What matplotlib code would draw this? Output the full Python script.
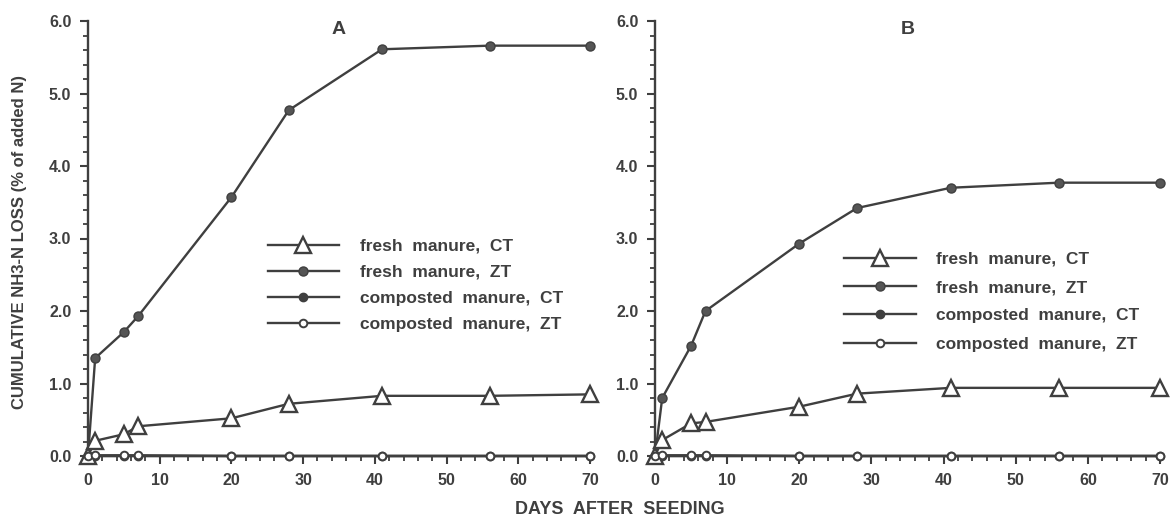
import numpy as np
import matplotlib
matplotlib.use("Agg")
import matplotlib.pyplot as plt
from matplotlib.ticker import MultipleLocator, FormatStrFormatter

INK = "#3f3f3f"
plt.rcParams.update({
    "font.family": ["Liberation Sans", "DejaVu Sans"],
    "font.weight": "bold",
    "text.color": INK, "axes.edgecolor": INK,
    "xtick.color": INK, "ytick.color": INK,
})

days = [0, 1, 5, 7, 20, 28, 41, 56, 70]

# panel A
a_fresh_ct = [0.0, 0.21, 0.30, 0.41, 0.52, 0.72, 0.83, 0.83, 0.85]
a_fresh_zt = [0.0, 1.35, 1.71, 1.93, 3.57, 4.77, 5.61, 5.66, 5.66]
a_comp_ct = [0.0, 0.0, 0.0, 0.0, 0.0, 0.0, 0.0, 0.0, 0.0]
a_comp_zt = [0.0, 0.01, 0.01, 0.01, 0.0, 0.0, 0.0, 0.0, 0.0]

# panel B
b_fresh_ct = [0.0, 0.22, 0.45, 0.47, 0.68, 0.86, 0.94, 0.94, 0.94]
b_fresh_zt = [0.0, 0.80, 1.52, 2.00, 2.93, 3.42, 3.70, 3.77, 3.77]
b_comp_ct = [0.0, 0.0, 0.0, 0.0, 0.0, 0.0, 0.0, 0.0, 0.0]
b_comp_zt = [0.0, 0.01, 0.01, 0.01, 0.0, 0.0, 0.0, 0.0, 0.0]

labels = ["fresh  manure,  CT", "fresh  manure,  ZT",
          "composted  manure,  CT", "composted  manure,  ZT"]

fig = plt.figure(figsize=(11.75, 5.22), dpi=100)
axA = fig.add_axes([88/1175, 1-456/522, 502/1175, 435/522])
axB = fig.add_axes([655/1175, 1-456/522, 505/1175, 435/522])


def panel(ax, fct, fzt, cct, czt, letter, leg_xy, spacing):
    kw = dict(color=INK, lw=1.7, clip_on=False)
    ax.plot(days, fct, marker="^", ms=11, mfc="white", mec=INK, mew=1.7,
            label=labels[0], zorder=4, **kw)
    ax.plot(days, fzt, marker="o", ms=6.5, mfc="#555555", mec=INK,
            label=labels[1], zorder=3, **kw)
    ax.plot(days, cct, marker="o", ms=6, mfc=INK, mec=INK,
            label=labels[2], zorder=2, **kw)
    ax.plot(days, czt, marker="o", ms=5.5, mfc="white", mec=INK, mew=1.4,
            label=labels[3], zorder=5, **kw)
    ax.set_xlim(0, 70)
    ax.set_ylim(0, 6)
    for s in ["top", "right"]:
        ax.spines[s].set_visible(False)
    for s in ["left", "bottom"]:
        ax.spines[s].set_linewidth(1.7)
    ax.xaxis.set_major_locator(MultipleLocator(10))
    ax.xaxis.set_minor_locator(MultipleLocator(2))
    ax.yaxis.set_major_locator(MultipleLocator(1))
    ax.yaxis.set_minor_locator(MultipleLocator(0.2))
    ax.yaxis.set_major_formatter(FormatStrFormatter("%.1f"))
    ax.tick_params(axis="both", which="major", length=6, width=1.5, labelsize=11.5, pad=6)
    ax.tick_params(axis="both", which="minor", length=3.5, width=1.3)
    ax.text(0.5, 1.0, letter, transform=ax.transAxes, ha="center", va="top",
            fontsize=14)
    leg = ax.legend(loc="upper left", bbox_to_anchor=leg_xy, frameon=False,
                    handlelength=4.1, handletextpad=1.2, labelspacing=spacing,
                    fontsize=12.5, borderpad=0, borderaxespad=0)
    for t in leg.get_texts():
        t.set_color(INK)


panel(axA, a_fresh_ct, a_fresh_zt, a_comp_ct, a_comp_zt, "A", (0.358, 0.5), 0.64)
panel(axB, b_fresh_ct, b_fresh_zt, b_comp_ct, b_comp_zt, "B", (0.375, 0.47), 0.76)

fig.text(20/1175, 1-242/522, "CUMULATIVE NH3-N LOSS (% of added N)", rotation=90,
         ha="center", va="center", fontsize=12)
fig.text(620/1175, 1-509/522, "DAYS  AFTER  SEEDING", ha="center", va="center",
         fontsize=13)

fig.savefig("out.png", dpi=100)
